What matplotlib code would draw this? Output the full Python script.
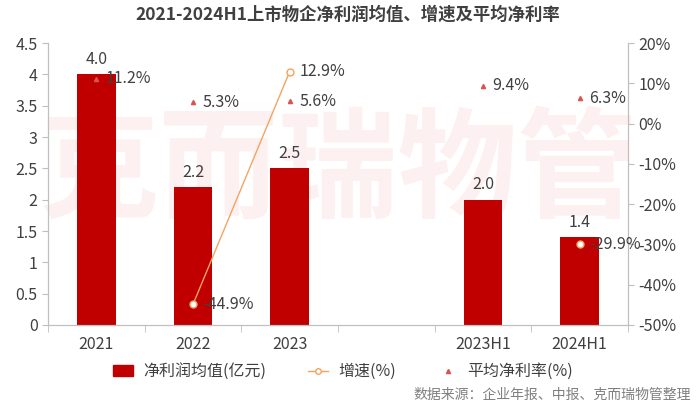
import matplotlib.pyplot as plt
import numpy as np
from matplotlib.lines import Line2D
from matplotlib.patches import Patch

plt.rcParams['font.family'] = ['Noto Sans CJK SC', 'DejaVu Sans']

cats = ['2021', '2022', '2023', '', '2023H1', '2024H1']
profit = [4.0, 2.2, 2.5, np.nan, 2.0, 1.4]
growth = [np.nan, -44.9, 12.9, np.nan, np.nan, -29.9]
margin = [11.2, 5.3, 5.6, np.nan, 9.4, 6.3]

txt = '#404040'
grey = '#bfbfbf'
bar_c = '#c00000'
line_c = '#f4a460'
tri_c = '#d9534f'

fig = plt.figure(figsize=(7, 4.07), dpi=100)
ax = fig.add_axes([0.0686, 0.2015, 0.8284, 0.6925])
ax2 = ax.twinx()

# watermark
fig.text(0.483, 0.575, '克而瑞物管', fontsize=86, color='#fdf0f0', ha='center', va='center',
         zorder=0, fontweight='bold')
ax.set_zorder(1)
ax2.set_zorder(2)
ax.patch.set_visible(False)
ax2.patch.set_visible(False)

x = np.arange(len(cats))
ax.bar(x, profit, width=0.4, color=bar_c, zorder=2)
for xi, v in zip(x, profit):
    if not np.isnan(v):
        ax.text(xi, v + 0.1, f'{v:.1f}', ha='center', va='bottom', fontsize=11.5, color=txt)

ax.set_ylim(0, 4.5)
ax.set_yticks(np.arange(0, 4.51, 0.5))
ax.set_yticklabels(['0', '0.5', '1', '1.5', '2', '2.5', '3', '3.5', '4', '4.5'])
ax.set_xlim(-0.5, len(cats) - 0.5)
ax.set_xticks(x)
ax.set_xticklabels(cats)
ax.set_xticks(np.arange(-0.5, len(cats), 1), minor=True)
ax.tick_params(axis='x', which='major', length=0, labelsize=11.5, labelcolor=txt, pad=8)
ax.tick_params(axis='x', which='minor', length=5, color=grey)
ax.tick_params(axis='y', length=4, color=grey, labelsize=11.5, labelcolor=txt)

ax2.plot(x, growth, color=line_c, lw=1, marker='o', ms=5, mfc='white', mec=line_c, zorder=3)
ax2.plot(x, margin, ls='none', marker='^', ms=3, color=tri_c, zorder=3)
for xi, v in zip(x, growth):
    if not np.isnan(v):
        ax2.text(xi + 0.1, v, f'{v:.1f}%', ha='left', va='center', fontsize=11.5, color=txt)
for xi, v in zip(x, margin):
    if not np.isnan(v):
        ax2.text(xi + 0.1, v, f'{v:.1f}%', ha='left', va='center', fontsize=11.5, color=txt)

ax2.set_ylim(-50, 20)
ax2.set_yticks(np.arange(-50, 21, 10))
ax2.set_yticklabels([f'{t}%' for t in range(-50, 21, 10)])
ax2.tick_params(axis='y', length=4, color=grey, labelsize=11.5, labelcolor=txt)

for a in (ax, ax2):
    a.spines['top'].set_visible(False)
    for s in ('left', 'right', 'bottom'):
        a.spines[s].set_color(grey)

fig.text(0.497, 0.963, '2021-2024H1上市物企净利润均值、增速及平均净利率', ha='center', va='center',
         fontsize=12.5, fontweight='bold', color='#404040')

handles = [Patch(color=bar_c),
           Line2D([], [], color=line_c, lw=1, marker='o', ms=4, mfc='white', mec=line_c),
           Line2D([], [], ls='none', marker='^', ms=3, color=tri_c)]
labels = ['净利润均值(亿元)', '增速(%)', '平均净利率(%)']
fig.legend(handles, labels, loc='center', bbox_to_anchor=(0.49, 0.087), ncol=3, frameon=False,
           fontsize=11.5, labelcolor=txt, columnspacing=2.6, handlelength=1.3, handletextpad=0.6)

fig.text(0.987, 0.03, '数据来源：企业年报、中报、克而瑞物管整理', ha='right', va='center',
         fontsize=10, color='#7f7f7f')

fig.savefig('out.png', dpi=100)
